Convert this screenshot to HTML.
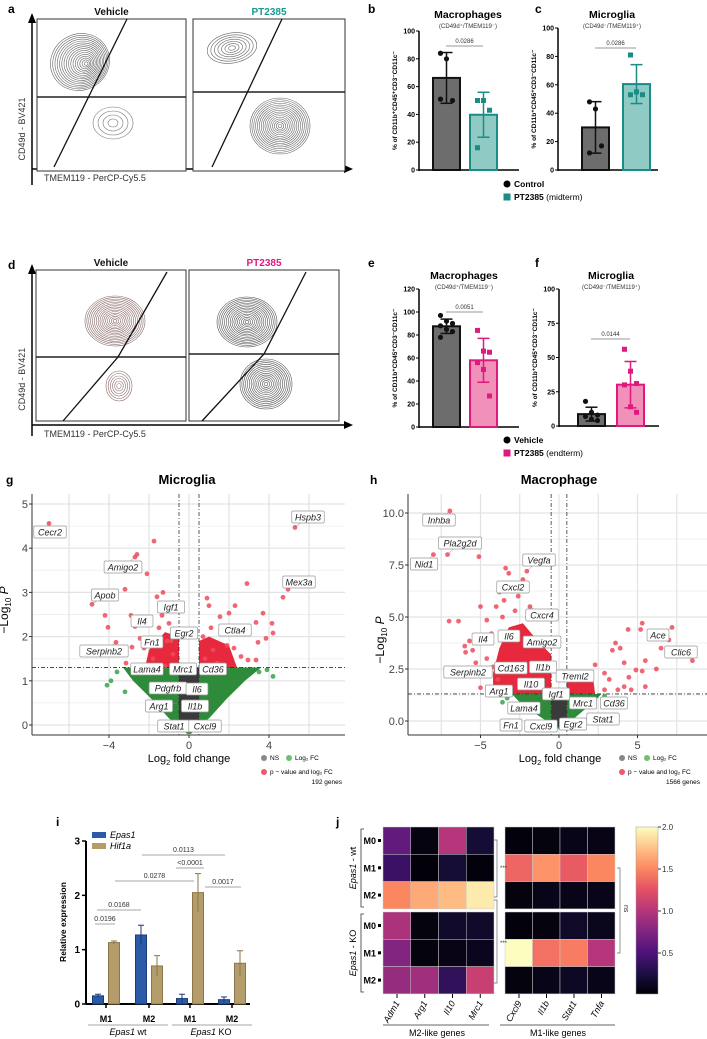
<!DOCTYPE html>
<html><head><meta charset="utf-8"><style>
body{margin:0;background:#fff}
svg{display:block;font-family:"Liberation Sans",sans-serif}
</style></head><body>
<svg id="fig" width="707" height="1039" viewBox="0 0 707 1039" xmlns="http://www.w3.org/2000/svg">
<g font-weight="bold" font-size="12">
<text x="8" y="13">a</text><text x="368" y="13">b</text><text x="535" y="13">c</text>
<text x="8" y="269">d</text><text x="368" y="267">e</text><text x="535" y="267">f</text>
<text x="6" y="484">g</text><text x="370" y="484">h</text>
<text x="56" y="826">i</text><text x="336" y="826">j</text>
</g>
</svg>
<script>
const NS="http://www.w3.org/2000/svg";
const svg=document.getElementById('fig');
function mk(tag,attrs,parent,txt){const e=document.createElementNS(NS,tag);for(const k in attrs)e.setAttribute(k,attrs[k]);if(txt!==undefined)e.textContent=txt;(parent||svg).appendChild(e);return e;}

/* ---------- DATA ---------- */
// b, c (midterm)
const bCtrl=[84,80,50,51], bPT=[50,50,43,16];
const cCtrl=[48,43,17,12], cPT=[81,55,53,53];
// e, f (endterm)
const eVeh=[97,92,90,88,85,83,78], ePT=[84,66,65,56,50,27];
const fVeh=[18,10,8,7,5,4], fPT=[56,40,31,30,14,10];
// i
const iGroups=["M1","M2","M1","M2"];
const iEpas=[0.15,1.27,0.10,0.08], iEpasErr=[0.03,0.18,0.08,0.05];
const iHif=[1.13,0.70,2.05,0.75], iHifErr=[0.03,0.19,0.35,0.23];
// j
const jGenes=["Adm1","Arg1","Il10","Mrc1","Cxcl9","Il1b","Stat1","Tnfa"];
const jRows=["M0","M1","M2","M0","M1","M2"];
const jVals=[
[0.6,0.05,1.0,0.2, 0.03,0.04,0.08,0.07],
[0.4,0.02,0.2,0.03, 1.35,1.55,1.3,1.5],
[1.5,1.65,1.72,1.92, 0.04,0.08,0.08,0.08],
[0.95,0.04,0.15,0.15, 0.03,0.04,0.14,0.09],
[0.75,0.04,0.07,0.1, 2.0,1.4,1.45,1.0],
[0.85,0.9,0.35,1.1, 0.04,0.08,0.12,0.08]];
// g volcano (microglia)
const gRed=[[-7.0,4.56],[5.3,4.47],[-2.7,3.8],[-2.6,3.86],[-1.75,4.16],[-2.1,3.42],[2.9,3.2],[-1.3,3.0],[-3.2,3.07],[4.95,3.07],[-4.85,2.73],[-1.35,2.48],[-2.7,2.23],[-0.9,1.9],[-2.25,1.74],[-3.65,1.87],[1.7,2.07],[-1.2,1.33],[-4.2,2.48],[-4.05,2.21],[-2.9,2.48],[-3.15,1.4],[-1.6,2.9],[0.9,2.87],[1.0,2.7],[2.3,2.7],[1.55,2.45],[2.0,2.53],[3.7,2.53],[4.15,2.3],[3.35,2.32],[2.85,2.19],[4.2,2.08],[3.85,1.96],[3.45,1.87],[2.95,1.47],[3.35,1.47],[4.7,2.89],[2.25,1.74],[1.9,1.8],[-2.85,1.76],[-2.45,1.96],[-1.5,2.2],[-1.0,2.3],[-0.8,1.6],[-1.8,1.5],[-2.0,1.9],[0.8,1.5],[1.2,1.7],[1.4,1.4],[2.6,1.55],[-1.1,1.9],[-0.7,2.1],[0.7,2.0],[1.1,2.2]];
const gLabels=[["Cecr2",-7.0,4.56,50,532],["Hspb3",5.3,4.47,308,517],["Amigo2",-2.7,3.8,123,567],["Mex3a",4.95,3.07,299,582],["Apob",-4.85,2.73,105,595],["Igf1",-1.35,2.48,171,607],["Il4",-2.7,2.23,142,621],["Egr2",-0.9,1.9,184,633],["Fn1",-2.25,1.74,152,642],["Serpinb2",-3.65,1.87,104,651],["Ctla4",1.7,2.07,235,630],["Lama4",-1.2,1.33,147,669],["Mrc1",-0.6,1.2,183,669],["Cd36",0.5,1.2,213,669],["Pdgfrb",-0.7,0.9,168,688],["Il6",0.2,0.8,197,689],["Arg1",-0.6,0.5,159,706],["Il1b",0.1,0.4,195,706],["Stat1",-0.2,0.05,174,726],["Cxcl9",0.3,0.05,205,726]];
// h volcano (macrophage)
const hRed=[[-6.95,10.1],[-7.1,8.0],[-8.0,8.0],[-5.1,7.9],[-2.05,7.2],[-3.4,7.35],[-3.2,7.1],[-1.85,5.5],[8.5,2.9],[7.2,4.5],[5.3,4.7],[5.2,4.4],[4.4,4.4],[3.6,3.75],[3.9,3.5],[3.4,3.4],[4.15,2.8],[4.9,2.45],[5.3,2.4],[5.5,2.9],[4.45,2.1],[2.3,2.7],[2.9,2.3],[3.75,1.5],[4.15,1.65],[5.5,1.65],[2.9,1.5],[4.6,1.5],[-7.0,4.8],[-6.4,4.8],[-5.7,3.85],[-5.95,3.3],[-5.0,1.6],[-5.0,5.5],[-4.6,4.85],[-4.0,5.5],[-3.8,6.2],[-3.0,6.6],[-2.6,6.0],[-4.3,4.2],[-5.3,2.8],[-4.8,2.3],[6.5,3.5],[7.0,3.9],[6.2,2.5],[3.2,2.0],[-2.3,6.8],[-3.6,5.0],[-6.0,3.6],[-5.5,3.4],[-4.6,3.0],[-4.2,2.6],[-3.9,2.0],[-3.5,5.8],[-2.8,5.3],[-2.0,5.0]];
const gLabelsDummy=null;
const hLabels=[["Inhba",-6.95,10.1,439,520],["Pla2g2d",-7.1,8.0,460,543],["Nid1",-8.0,8.0,424,564],["Vegfa",-2.05,7.2,539,560],["Cxcl2",-2.6,6.5,513,587],["Cxcr4",-1.85,5.5,542,615],["Il4",-4.3,4.2,483,639],["Il6",-3.0,4.0,509,636],["Amigo2",-1.0,3.9,542,642],["Serpinb2",-5.0,2.6,468,672],["Cd163",-2.3,2.8,511,668],["Il1b",-0.8,2.8,543,667],["Treml2",0.6,2.4,575,676],["Il10",-1.5,2.0,531,684],["Arg1",-3.6,1.6,499,691],["Igf1",-0.3,1.3,556,694],["Mrc1",1.0,1.1,583,703],["Cd36",3.0,1.1,614,703],["Lama4",-1.5,0.7,524,708],["Stat1",2.4,0.4,603,719],["Egr2",0.3,0.2,573,724],["Fn1",-2.4,0.1,511,725],["Cxcl9",-0.5,0.05,541,726],["Ace",7.2,4.5,658,635],["Clic6",8.5,2.9,681,652]];

/* ---------- a / d contour panels ---------- */
function flowPanel(o){
  const G=mk('g',{});
  mk('line',{x1:32,y1:o.top+170,x2:32,y2:o.top,stroke:'#000','stroke-width':1.5},G);
  mk('path',{d:`M28,${o.top+8} L32,${o.top-2} L36,${o.top+8}Z`,fill:'#000'},G);
  mk('line',{x1:32,y1:o.axY,x2:346,y2:o.axY,stroke:'#000','stroke-width':1.5},G);
  mk('path',{d:`M344,${o.axY-4} L353,${o.axY} L344,${o.axY+4}Z`,fill:'#000'},G);
  const t1=mk('text',{x:25,y:o.top+o.h*0.75,'font-size':9,fill:'#333',transform:`rotate(-90 25 ${o.top+o.h*0.75})`,'text-anchor':'middle'},G,'CD49d - BV421');
  
  const t2=mk('text',{x:44,y:o.axY+12,'font-size':9,fill:'#333'},G,'TMEM119 - PerCP-Cy5.5');
  
  o.boxes.forEach((b,i)=>{
    const r=mk('rect',{x:b.x,y:o.top+4,width:b.w,height:o.h,fill:'#fff',stroke:'#333','stroke-width':1},G);
    
    const tt=mk('text',{x:b.x+b.w/2,y:o.top,'font-size':10,'font-weight':'bold','text-anchor':'middle',fill:b.tc},G,b.title);
    
    b.cont.forEach(c=>{for(let k=0;k<c.n;k++){const f=1-k/c.n;
      mk('ellipse',{cx:c.cx+(k*c.dx||0),cy:c.cy+(k*c.dy||0),rx:c.rx*f,ry:c.ry*f,fill:'none',stroke:c.col,'stroke-width':0.6,transform:`rotate(${c.rot} ${c.cx} ${c.cy})`},G);}});
    mk('line',{x1:b.x,y1:b.gy,x2:b.x+b.w,y2:b.gy,stroke:'#222','stroke-width':1.5},G);
    mk('polyline',{points:b.diag,fill:'none',stroke:'#111','stroke-width':1.3},G);
  });
}
flowPanel({name:'panel-a-flow',top:15,h:152,axY:169,boxes:[
 {x:37,w:149,title:'Vehicle',tc:'#111',gy:97,diag:'54,167 127,19',cont:[{cx:80,cy:62,rx:30,ry:28,n:16,rot:-30,col:'#666',dx:0.3,dy:0.3},{cx:113,cy:123,rx:20,ry:16,n:4,rot:0,col:'#777'}]},
 {x:193,w:152,title:'PT2385',tc:'#1a9990',gy:92,diag:'212,167 282,19',cont:[{cx:232,cy:48,rx:25,ry:15,n:7,rot:-10,col:'#666'},{cx:280,cy:126,rx:30,ry:28,n:16,rot:0,col:'#666'}]}]});
flowPanel({name:'panel-d-flow',top:266,h:151,axY:425,boxes:[
 {x:36,w:150,title:'Vehicle',tc:'#111',gy:357,diag:'63,421 118,357 167,272',cont:[{cx:115,cy:321,rx:30,ry:25,n:16,rot:0,col:'#8a6a6a'},{cx:119,cy:386,rx:13,ry:15,n:6,rot:0,col:'#8a6a6a'}]},
 {x:189,w:150,title:'PT2385',tc:'#e0197e',gy:354,diag:'202,421 264,354 306,272',cont:[{cx:247,cy:322,rx:30,ry:25,n:16,rot:0,col:'#555'},{cx:266,cy:384,rx:26,ry:25,n:14,rot:0,col:'#555'}]}]});

/* ---------- bar charts with dots ---------- */
function mean(a){return a.reduce((s,v)=>s+v,0)/a.length}
function sd(a){const m=mean(a);return Math.sqrt(a.reduce((s,v)=>s+(v-m)*(v-m),0)/(a.length-1))}
function dotBar(o){
  const G=mk('g',{});
  const Y=v=>o.y0-(v/o.max)*(o.y0-o.ytop);
  mk('text',{x:o.cx,y:o.ty,'font-size':10.5,'font-weight':'bold','text-anchor':'middle'},G,o.title);
  mk('text',{x:o.cx,y:o.ty+10,'font-size':6,'text-anchor':'middle',fill:'#333'},G,o.sub);
  mk('line',{x1:o.ax,y1:Y(0)+1,x2:o.ax,y2:Y(o.max),stroke:'#000','stroke-width':1.5},G);
  mk('line',{x1:o.ax,y1:Y(0),x2:o.ax+100,y2:Y(0),stroke:'#000','stroke-width':1.5},G);
  o.ticks.forEach(t=>{mk('line',{x1:o.ax-3,y1:Y(t),x2:o.ax,y2:Y(t),stroke:'#000','stroke-width':1},G);
    mk('text',{x:o.ax-4,y:Y(t)+2.5,'font-size':7,'font-weight':'bold','text-anchor':'end'},G,String(t));});
  const yl=mk('text',{x:o.ax-22,y:(Y(0)+Y(o.max))/2,'font-size':6.5,'font-weight':'bold','text-anchor':'middle',transform:`rotate(-90 ${o.ax-22} ${(Y(0)+Y(o.max))/2})`},G,'% of CD11b⁺CD45⁺CD3⁻CD11c⁻');
  
  o.series.forEach((s,i)=>{
    const m=mean(s.v),d=sd(s.v),x=o.bx[i],w=27;
    const r=mk('rect',{x:x,y:Y(m),width:w,height:Y(0)-Y(m),fill:s.fill,stroke:s.stroke,'stroke-width':2},G);
    
    mk('line',{x1:x+w/2,y1:Y(m-d),x2:x+w/2,y2:Y(m+d),stroke:s.stroke,'stroke-width':1.5},G);
    [m-d,m+d].forEach(v=>mk('line',{x1:x+w/2-6,y1:Y(v),x2:x+w/2+6,y2:Y(v),stroke:s.stroke,'stroke-width':1.5},G));
    s.v.forEach((v,k)=>{const px=x+w/2+((k%3)-1)*6;
      if(s.shape==='c')mk('circle',{cx:px,cy:Y(v),r:2.6,fill:s.dot},G);
      else mk('rect',{x:px-2.5,y:Y(v)-2.5,width:5,height:5,fill:s.dot},G);});
  });
  mk('line',{x1:o.bx[0]+13,y1:o.sy,x2:o.bx[1]+13,y2:o.sy,stroke:'#777','stroke-width':0.8},G);
  mk('text',{x:(o.bx[0]+o.bx[1])/2+13,y:o.sy-3,'font-size':6,'text-anchor':'middle',fill:'#333'},G,o.p);
}
const TEAL='#1a8c85',PINK='#e0197e';
dotBar({name:'panel-b-macrophages',title:'Macrophages',sub:'(CD49d⁺/TMEM119⁻)',cx:468,ty:18,ax:419,y0:170,ytop:31,max:100,ticks:[0,20,40,60,80,100],bx:[433,470],sy:46,p:'0.0286',
 series:[{key:'control',v:bCtrl,fill:'#6d6d6d',stroke:'#111',dot:'#111',shape:'c'},{key:'pt2385',v:bPT,fill:'#8fcac4',stroke:TEAL,dot:TEAL,shape:'s'}]});
dotBar({name:'panel-c-microglia',title:'Microglia',sub:'(CD49d⁻/TMEM119⁺)',cx:612,ty:18,ax:558,y0:170,ytop:28,max:100,ticks:[0,20,40,60,80,100],bx:[582,623],sy:48,p:'0.0286',
 series:[{key:'control',v:cCtrl,fill:'#6d6d6d',stroke:'#111',dot:'#111',shape:'c'},{key:'pt2385',v:cPT,fill:'#8fcac4',stroke:TEAL,dot:TEAL,shape:'s'}]});
dotBar({name:'panel-e-macrophages',title:'Macrophages',sub:'(CD49d⁺/TMEM119⁻)',cx:464,ty:279,ax:419,y0:427,ytop:289,max:120,ticks:[0,20,40,60,80,100,120],bx:[433,470],sy:312,p:'0.0051',
 series:[{key:'vehicle',v:eVeh,fill:'#6d6d6d',stroke:'#111',dot:'#111',shape:'c'},{key:'pt2385',v:ePT,fill:'#f190b9',stroke:PINK,dot:PINK,shape:'s'}]});
dotBar({name:'panel-f-microglia',title:'Microglia',sub:'(CD49d⁻/TMEM119⁺)',cx:611,ty:279,ax:559,y0:426,ytop:289,max:100,ticks:[0,25,50,75,100],bx:[578,617],sy:339,p:'0.0144',
 series:[{key:'vehicle',v:fVeh,fill:'#6d6d6d',stroke:'#111',dot:'#111',shape:'c'},{key:'pt2385',v:fPT,fill:'#f190b9',stroke:PINK,dot:PINK,shape:'s'}]});
function legend2(y,l2,col){const G=mk('g',{});
  mk('circle',{cx:507,cy:y,r:3.5,fill:'#000'},G);mk('text',{x:514,y:y+3,'font-size':8.5,'font-weight':'bold'},G,l2[0]);
  mk('rect',{x:503.5,y:y+9.5,width:7,height:7,fill:col},G);
  const t=mk('text',{x:514,y:y+16,'font-size':8.5,'font-weight':'bold'},G,l2[1]);mk('tspan',{'font-weight':'normal'},t,' '+l2[2]);}
legend2(184,['Control','PT2385','(midterm)'],TEAL);
legend2(440,['Vehicle','PT2385','(endterm)'],PINK);

/* ---------- volcano plots ---------- */
function volcano(o){
  const G=mk('g',{});
  const X=v=>o.x0+v*o.sx, Y=v=>o.y0-v*o.sy;
  mk('text',{x:o.tx,y:484,'font-size':13,'font-weight':'bold','text-anchor':'middle'},G,o.title);
  mk('rect',{x:o.L,y:o.T,width:o.R-o.L,height:735-o.T,fill:'#fff'},G);
  o.minor.forEach(v=>mk('line',{x1:o.L,y1:Y(v),x2:o.R,y2:Y(v),stroke:'#f0f0f0','stroke-width':1},G));
  o.yt.forEach(v=>mk('line',{x1:o.L,y1:Y(v),x2:o.R,y2:Y(v),stroke:'#e3e3e3','stroke-width':1.2},G));
  o.xg.forEach(v=>mk('line',{x1:X(v),y1:o.T,x2:X(v),y2:735,stroke:'#e3e3e3','stroke-width':1.2},G));
  const poly=(pts,fill)=>mk('polygon',{points:pts.map(p=>X(p[0])+','+Y(p[1])).join(' '),fill:fill},G);
  poly(o.green,'#2e8b3a');o.redD.forEach(r=>poly(r,'#e8283c'));poly(o.grey,'#3a3a3a');
  o.greenPts.forEach(p=>mk('circle',{cx:X(p[0]),cy:Y(p[1]),r:2.4,fill:'#3aa04a',opacity:0.85},G));
  o.red.forEach(p=>{mk('circle',{cx:X(p[0]),cy:Y(p[1]),r:2.4,fill:'#ef4a5c',opacity:0.85},G);});
  mk('line',{x1:X(-0.5),y1:o.T,x2:X(-0.5),y2:735,stroke:'#333','stroke-dasharray':'4,2,1,2','stroke-width':0.8},G);
  mk('line',{x1:X(0.5),y1:o.T,x2:X(0.5),y2:735,stroke:'#333','stroke-dasharray':'4,2,1,2','stroke-width':0.8},G);
  mk('line',{x1:o.L,y1:Y(1.3),x2:o.R,y2:Y(1.3),stroke:'#333','stroke-dasharray':'4,2,1,2','stroke-width':0.8},G);
  mk('line',{x1:o.L,y1:o.T,x2:o.L,y2:735,stroke:'#333','stroke-width':1},G);
  mk('line',{x1:o.L,y1:735,x2:o.R,y2:735,stroke:'#333','stroke-width':1},G);
  o.yt.forEach(v=>{mk('line',{x1:o.L-3,y1:Y(v),x2:o.L,y2:Y(v),stroke:'#333'},G);
    mk('text',{x:o.L-4,y:Y(v)+4,'font-size':11,'text-anchor':'end',fill:'#444'},G,o.yfmt(v));});
  o.xt.forEach(v=>{mk('line',{x1:X(v),y1:735,x2:X(v),y2:738,stroke:'#333'},G);
    mk('text',{x:X(v),y:749,'font-size':11,'text-anchor':'middle',fill:'#444'},G,v<0?'−'+(-v):String(v));});
  o.labels.forEach(l=>{const w=l[0].length*5.3+6;
    mk('line',{x1:X(l[1]),y1:Y(l[2]),x2:l[3],y2:l[4],stroke:'#888','stroke-width':0.5},G);
    const r=mk('rect',{x:l[3]-w/2,y:l[4]-6,width:w,height:12,rx:1.5,fill:'#fff',stroke:'#999','stroke-width':0.7},G);
    
    mk('text',{x:l[3],y:l[4]+3.5,'font-size':9,'font-style':'italic','text-anchor':'middle',fill:'#222'},G,l[0]);});
  const yl=mk('text',{x:o.L-24,y:o.ylY,'font-size':12,'text-anchor':'middle',transform:`rotate(-90 ${o.L-24} ${o.ylY})`},G,'−Log');
  mk('tspan',{'font-size':8,dy:3},yl,'10');mk('tspan',{dy:-3,'font-style':'italic'},yl,' P');
  const xl=mk('text',{x:o.xlX,y:762,'font-size':11,'text-anchor':'middle'},G,'Log');
  mk('tspan',{'font-size':7.5,dy:3},xl,'2');mk('tspan',{dy:-3},xl,' fold change');
  const lx=o.legX;
  mk('circle',{cx:lx,cy:758,r:3,fill:'#888'},G);mk('text',{x:lx+6,y:760,'font-size':6.5},G,'NS');
  mk('circle',{cx:lx+25,cy:758,r:3,fill:'#6cc070'},G);mk('text',{x:lx+31,y:760,'font-size':6.5},G,'Log₂ FC');
  mk('circle',{cx:lx,cy:772,r:3,fill:'#ef5a6a'},G);mk('text',{x:lx+6,y:774,'font-size':6.5},G,'p − value and log₂ FC');
  mk('text',{x:lx+78,y:784,'font-size':6.5,'text-anchor':'end'},G,o.n);
}
volcano({name:'panel-g-volcano-microglia',title:'Microglia',tx:187,L:32,R:345,T:494,x0:189,sx:20,y0:725,sy:44.2,
 yt:[0,1,2,3,4,5],minor:[0.5,1.5,2.5,3.5,4.5],xg:[-6,-4,-2,0,2,4,6],xt:[-4,0,4],yfmt:v=>String(v),ylY:610,xlX:189,legX:264,n:'192 genes',
 green:[[-3.3,1.3],[-0.5,1.3],[-0.5,0],[-0.1,-0.2],[0.1,-0.2],[0.5,0],[0.5,1.3],[3.6,1.3],[2.8,1.0],[1.9,0.6],[1.0,0.15],[0.3,-0.1],[-0.3,-0.1],[-1.0,0.15],[-1.9,0.6],[-2.8,1.0]],
 grey:[[-0.5,1.3],[0.5,1.3],[0.5,0],[0,-0.15],[-0.5,0]],
 redD:[[[-2.2,1.3],[-0.5,1.3],[-0.5,2.0],[-1.2,2.1],[-2.0,1.7]],[[0.5,1.3],[2.4,1.3],[2.0,1.8],[1.0,2.0],[0.5,1.9]]],
 greenPts:[[-3.9,1.0],[-3.6,1.2],[-4.1,0.9],[-3.2,0.75],[3.9,1.25],[4.2,1.1],[3.5,1.2]],
 red:gRed,labels:gLabels});
volcano({name:'panel-h-volcano-macrophage',title:'Macrophage',tx:559,L:408,R:707,T:494,x0:559,sx:15.7,y0:721,sy:20.8,
 yt:[0,2.5,5,7.5,10],minor:[1.25,3.75,6.25,8.75],xg:[-7.5,-5,-2.5,0,2.5,5,7.5],xt:[-5,0,5],yfmt:v=>v.toFixed(1),ylY:640,xlX:560,legX:622,n:'1566 genes',
 green:[[-3.0,1.3],[-0.5,1.3],[-0.5,0],[0,-0.4],[0.5,0],[0.5,1.3],[2.7,1.3],[2.2,0.9],[1.4,0.4],[0.6,-0.1],[-0.6,-0.1],[-1.6,0.4],[-2.5,0.9]],
 grey:[[-0.5,1.3],[0.5,1.3],[0.5,0],[0,-0.3],[-0.5,0]],
 redD:[[[-4.2,1.3],[-0.5,1.3],[-0.5,3.2],[-1.3,3.8],[-2.3,4.7],[-3.2,4.5],[-3.8,3.5],[-4.2,2.3]],[[0.5,1.3],[2.3,1.3],[2.2,1.9],[1.5,2.3],[0.8,2.2],[0.5,1.9]]],
 greenPts:[[-3.3,1.1],[-3.6,0.9],[2.9,1.2],[3.0,1.0]],
 red:hRed,labels:hLabels});

/* ---------- panel i ---------- */
(function(){
  const G=mk('g',{});
  const y0=1004,y3=841,Y=v=>y0-v*(y0-y3)/3, ax=86, gx=[106,149,190,232];
  mk('line',{x1:ax,y1:y0,x2:ax,y2:y3,stroke:'#000','stroke-width':2},G);
  mk('line',{x1:ax,y1:y0,x2:250,y2:y0,stroke:'#000','stroke-width':2},G);
  [0,1,2,3].forEach(t=>{mk('line',{x1:ax-4,y1:Y(t),x2:ax,y2:Y(t),stroke:'#000','stroke-width':1.5},G);
    mk('text',{x:ax-6,y:Y(t)+3.5,'font-size':10,'font-weight':'bold','text-anchor':'end'},G,String(t));});
  mk('text',{x:66,y:922,'font-size':8.5,'font-weight':'bold','text-anchor':'middle',transform:'rotate(-90 66 922)'},G,'Relative expression');
  iGroups.forEach((g,i)=>{
    [[iEpas,iEpasErr,'#2b5aa8','#1b3a78',-8],[iHif,iHifErr,'#b59d6b','#8b7549',8]].forEach(s=>{
      const v=s[0][i],e=s[1][i],cx=gx[i]+s[4],w=11;
      const r=mk('rect',{x:cx-w/2,y:Y(v),width:w,height:Y(0)-Y(v),fill:s[2],stroke:s[3],'stroke-width':1},G);
      
      mk('line',{x1:cx,y1:Y(v-e),x2:cx,y2:Y(v+e),stroke:s[3],'stroke-width':1},G);
      mk('line',{x1:cx-3,y1:Y(v+e),x2:cx+3,y2:Y(v+e),stroke:s[3],'stroke-width':1},G);});
    mk('line',{x1:gx[i],y1:y0,x2:gx[i],y2:y0+4,stroke:'#000','stroke-width':1.5},G);
    mk('text',{x:gx[i],y:1022,'font-size':9,'font-weight':'bold','text-anchor':'middle'},G,g);
  });
  mk('line',{x1:88,y1:1025,x2:168,y2:1025,stroke:'#888','stroke-width':0.8},G);
  mk('line',{x1:172,y1:1025,x2:252,y2:1025,stroke:'#888','stroke-width':0.8},G);
  const a=mk('text',{x:128,y:1035,'font-size':9,'text-anchor':'middle'},G);mk('tspan',{'font-style':'italic'},a,'Epas1');mk('tspan',{},a,' wt');
  const b=mk('text',{x:211,y:1035,'font-size':9,'text-anchor':'middle'},G);mk('tspan',{'font-style':'italic'},b,'Epas1');mk('tspan',{},b,' KO');
  [['0.0196',95,115,924],['0.0168',97,141,910],['0.0278',115,194,881],['<0.0001',176,204,868],['0.0113',142,225,855],['0.0017',205,241,887]].forEach(s=>{
    mk('line',{x1:s[1],y1:s[3],x2:s[2],y2:s[3],stroke:'#888','stroke-width':0.8},G);
    mk('text',{x:(s[1]+s[2])/2,y:s[3]-3,'font-size':7,'text-anchor':'middle',fill:'#333'},G,s[0]);});
  mk('rect',{x:92,y:832,width:14,height:6,fill:'#2b5aa8'},G);
  mk('text',{x:110,y:838,'font-size':9,'font-style':'italic'},G,'Epas1');
  mk('rect',{x:92,y:843,width:14,height:6,fill:'#b59d6b'},G);
  mk('text',{x:110,y:849,'font-size':9,'font-style':'italic'},G,'Hif1a');
})();

/* ---------- panel j heatmap ---------- */
const MAG=['#000004','#1c1044','#4f127b','#812581','#b5367a','#e55064','#fb8761','#fec287','#fcfdbf'];
function hex(c){return[1,3,5].map(i=>parseInt(c.substr(i,2),16))}
function magma(t){t=Math.max(0,Math.min(1,t));const f=t*8,i=Math.min(7,Math.floor(f)),u=f-i,a=hex(MAG[i]),b=hex(MAG[i+1]);
  return 'rgb('+a.map((v,k)=>Math.round(v+(b[k]-v)*u)).join(',')+')';}
(function(){
  const G=mk('g',{});
  const colX=c=>c<4?383+c*27.75:505+(c-4)*27.5, rowY=r=>r<3?827+r*27.3:912+(r-3)*27.3;
  jVals.forEach((row,r)=>row.forEach((v,c)=>{
    const cell=mk('rect',{x:colX(c),y:rowY(r),width:c<4?27.75:27.5,height:27.3,fill:magma(v/2),stroke:'#ccc','stroke-width':0.5},G);
    }));
  jRows.forEach((l,r)=>{mk('text',{x:376,y:rowY(r)+17,'font-size':9,'font-weight':'bold','text-anchor':'end'},G,l);
    mk('rect',{x:378,y:rowY(r)+12,width:3,height:3,fill:'#000'},G);});
  jGenes.forEach((g,c)=>{const cx=colX(c)+14;mk('line',{x1:cx,y1:994,x2:cx,y2:998,stroke:'#000'},G);
    mk('text',{x:cx+3,y:1003,'font-size':9,'font-style':'italic','text-anchor':'end',transform:`rotate(-60 ${cx+3} 1003)`},G,g);});
  mk('line',{x1:383,y1:1025,x2:489,y2:1025,stroke:'#333','stroke-width':0.8},G);
  mk('line',{x1:500,y1:1025,x2:615,y2:1025,stroke:'#333','stroke-width':0.8},G);
  mk('text',{x:437,y:1036,'font-size':9,'text-anchor':'middle'},G,'M2-like genes');
  mk('text',{x:558,y:1036,'font-size':9,'text-anchor':'middle'},G,'M1-like genes');
  mk('path',{d:'M364,829 L361,829 L361,907 L364,907',fill:'none',stroke:'#333','stroke-width':0.8},G);
  mk('path',{d:'M364,914 L361,914 L361,992 L364,992',fill:'none',stroke:'#333','stroke-width':0.8},G);
  [[356,868,'- wt'],[356,953,'- KO']].forEach(s=>{const t=mk('text',{x:s[0],y:s[1],'font-size':9,'text-anchor':'middle',transform:`rotate(-90 ${s[0]} ${s[1]})`},G);
    mk('tspan',{'font-style':'italic'},t,'Epas1 ');mk('tspan',{},t,s[2]);});
  mk('path',{d:'M494,840 L497,840 L497,897 L494,897',fill:'none',stroke:'#666','stroke-width':0.7},G);
  mk('path',{d:'M494,900 L497,900 L497,983 L494,983',fill:'none',stroke:'#666','stroke-width':0.7},G);
  mk('text',{x:500,y:870,'font-size':6,fill:'#333'},G,'***');mk('text',{x:500,y:945,'font-size':6,fill:'#333'},G,'***');
  mk('path',{d:'M617,868 L620,868 L620,953 L617,953',fill:'none',stroke:'#666','stroke-width':0.7},G);
  mk('text',{x:624,y:905,'font-size':7,fill:'#333',transform:'rotate(90 624 905)'},G,'ns');
  const defs=mk('defs',{},G);const lg=mk('linearGradient',{id:'mg',x1:0,y1:1,x2:0,y2:0},defs);
  MAG.forEach((c,i)=>mk('stop',{offset:(i/8),'stop-color':c},lg));
  const cb=mk('rect',{x:636,y:827,width:22,height:167,fill:'url(#mg)',stroke:'#999','stroke-width':0.5},G);
  
  [['2.0',827],['1.5',869],['1.0',911],['0.5',953]].forEach(s=>{mk('line',{x1:658,y1:s[1],x2:661,y2:s[1],stroke:'#333'},G);
    mk('text',{x:662,y:s[1]+3,'font-size':8,fill:'#333'},G,s[0]);});
})();
</script>
</body></html>
